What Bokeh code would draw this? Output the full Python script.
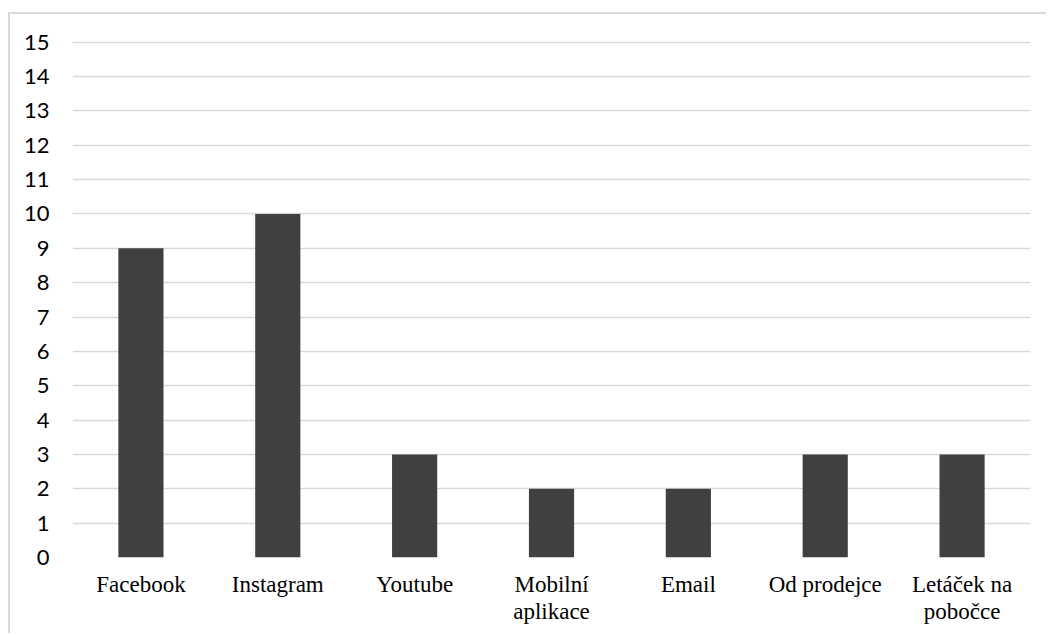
from bokeh.plotting import figure
from bokeh.models import FactorRange, Range1d, ColumnDataSource, FixedTicker
from bokeh.embed import file_html
from bokeh.resources import INLINE

categories = ["Facebook", "Instagram", "Youtube", "Mobilní\naplikace", "Email", "Od prodejce", "Letáček na\npobočce"]
values = [9, 10, 3, 2, 2, 3, 3]
y_ticks = list(range(0, 16))

src = ColumnDataSource(dict(cat=categories, val=values))

p = figure(width=1038, height=621, x_range=FactorRange(*categories), y_range=Range1d(0, 15.05),
           output_backend="svg", toolbar_location=None,
           min_border_left=62, min_border_right=18, min_border_top=26, min_border_bottom=78)
p.margin = (12, 0, 0, 8)
p.styles = {"border-top": "2px solid #d9d9d9", "border-left": "2px solid #d9d9d9"}
p.outline_line_color = None
p.background_fill_color = "white"
p.border_fill_color = "white"

p.vbar(x="cat", top="val", width=0.33, source=src, color="#404040", line_color=None)

p.xgrid.grid_line_color = None
p.ygrid.grid_line_color = "#d9d9d9"
p.ygrid.grid_line_width = 1.5
p.yaxis.ticker = FixedTicker(ticks=y_ticks)
p.yaxis.axis_line_color = None
p.yaxis.major_tick_line_color = None
p.yaxis.minor_tick_line_color = None
p.yaxis.major_tick_out = 0
p.yaxis.major_label_standoff = 23
p.yaxis.major_label_text_font = "Lato"
p.yaxis.major_label_text_font_size = "22px"
p.yaxis.major_label_text_color = "#000000"

p.xaxis.axis_line_color = None
p.xaxis.major_tick_line_color = None
p.xaxis.major_tick_out = 0
p.xaxis.major_label_standoff = 14
p.xaxis.major_label_text_font = "Liberation Serif"
p.xaxis.major_label_text_font_size = "23px"
p.xaxis.major_label_text_line_height = 1.1
p.xaxis.major_label_text_color = "#000000"

open("out.html", "w").write(file_html(p, INLINE))
